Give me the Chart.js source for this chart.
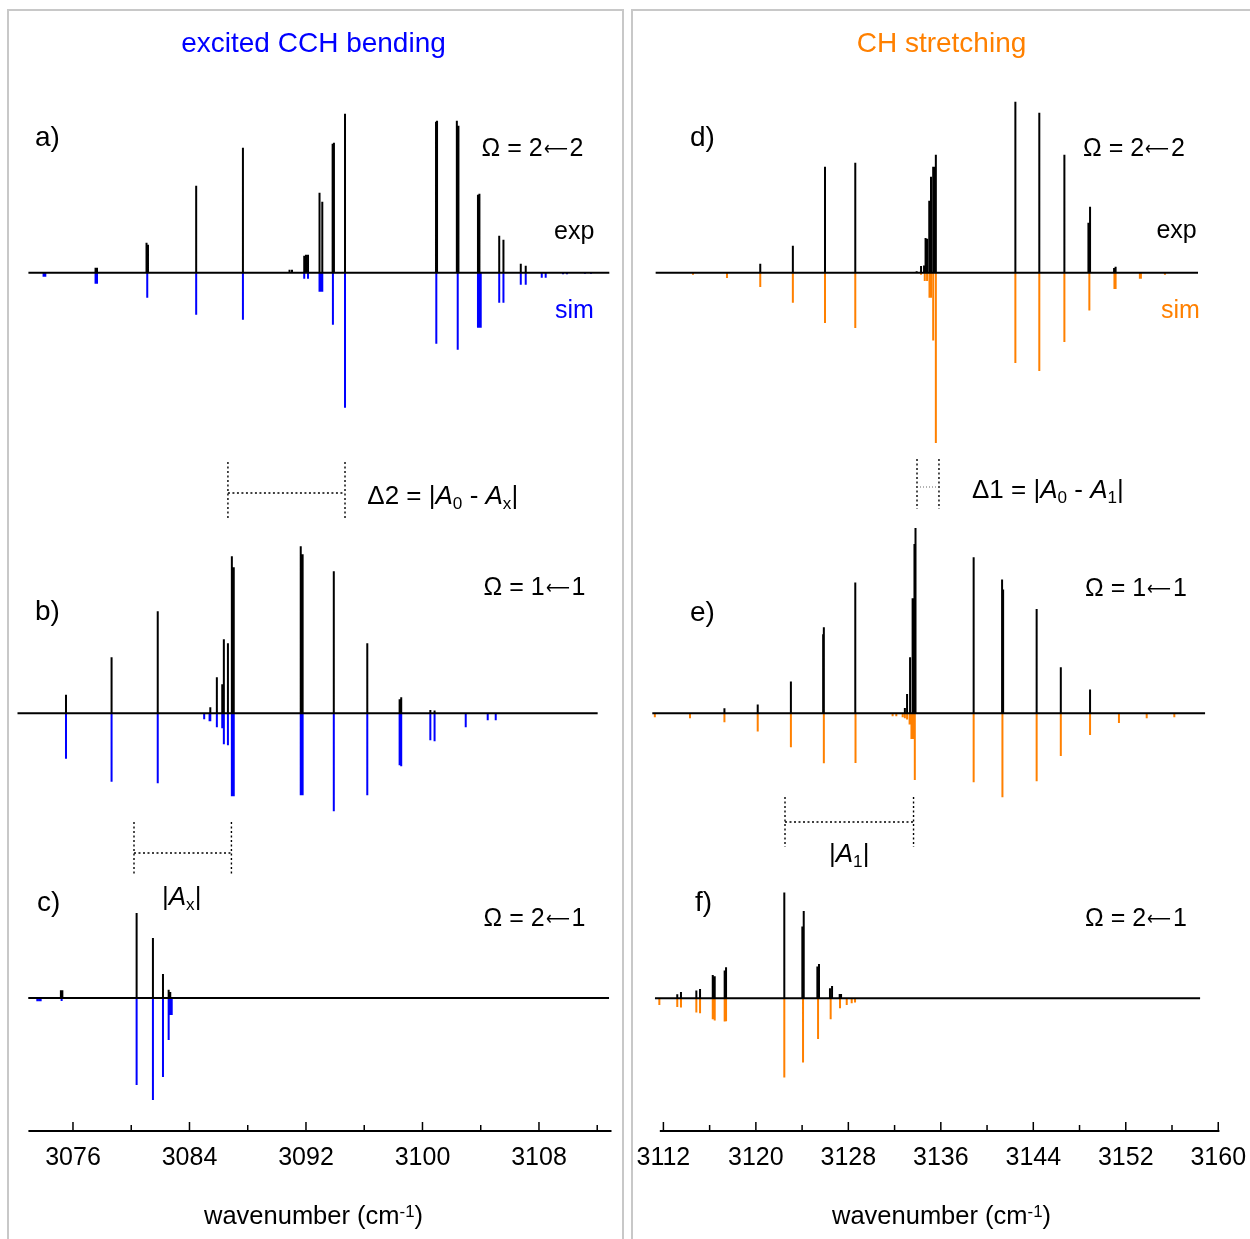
<!DOCTYPE html>
<html>
<head>
<meta charset="utf-8">
<script src="https://cdn.jsdelivr.net/npm/chart.js@4.4.0/dist/chart.umd.min.js"></script>
<style>
html,body{margin:0;padding:0;background:#fff;}
body{width:1250px;height:1239px;position:relative;overflow:hidden;font-family:"Liberation Sans",Arial,sans-serif;color:#000;}
.box{position:absolute;border:2px solid #c8c8c8;box-sizing:border-box;}
.t{position:absolute;white-space:nowrap;line-height:1;}
.cw{position:absolute;top:0;}
.sub{font-size:0.66em;position:relative;top:0.28em;}
.sup{font-size:0.66em;position:relative;top:-0.45em;}
.arr{display:inline-block;font-family:"DejaVu Sans",sans-serif;font-size:0.8em;transform-origin:0 50%;position:relative;top:-1px;}
i{font-style:italic;}
</style>
</head>
<body>
<div class="box" style="left:7px;top:9px;width:617px;height:1240px;"></div>
<div class="box" style="left:631px;top:9px;width:621px;height:1240px;"></div>
<div class="cw" style="left:0;"><canvas id="cl" width="625" height="1239"></canvas></div>
<div class="cw" style="left:600px;"><canvas id="cr" width="700" height="1239"></canvas></div>
<script>
// ---------------- data (wavenumber in cm-1, intensity in arbitrary units) ----------------
const leftTicks = [3076,3080,3084,3088,3092,3096,3100,3104,3108,3112];
const leftTickLabels = [3076,3084,3092,3100,3108];
const rightTicks = [3112,3116,3120,3124,3128,3132,3136,3140,3144,3148,3152,3156,3160];
const rightTickLabels = [3112,3120,3128,3136,3144,3152,3160];

// a) excited CCH bending, Omega = 2<-2
const aExp = [[3077.55,5],[3077.65,5],[3081.05,30],[3081.15,28],[3084.46,87],[3087.67,125],
  [3090.87,3],[3091.04,3],[3091.88,17],[3092.00,18],[3092.14,18],[3092.93,80],[3093.12,71],
  [3093.83,129],[3093.92,130],[3094.68,159],[3100.93,151],[3101.00,152],[3102.36,152],[3102.47,147],
  [3103.81,78],[3103.91,79],[3105.27,37],[3105.56,33],[3106.75,9],[3107.09,7]];
const aSim = [[3073.98,4],[3074.10,4],[3077.55,11],[3077.65,11],[3081.10,25],[3084.46,42],[3087.67,47],
  [3091.88,6],[3092.14,6],[3092.93,19],[3093.02,19],[3093.12,19],[3093.85,52],[3094.68,135],
  [3100.95,71],[3102.42,77],[3103.81,55],[3103.91,55],[3104.00,55],[3105.27,30],[3105.56,30],
  [3106.75,12],[3107.09,12],[3108.19,5],[3108.46,5],[3109.65,1.5],[3109.92,1.5],[3111.16,1],[3111.57,1]];
// b) Omega = 1<-1
const bExp = [[3075.52,18.5],[3078.65,56],[3081.82,102],[3085.43,6],[3085.88,36],[3086.25,29],[3086.36,74],
  [3086.64,70],[3086.91,157],[3087.04,146],[3091.64,167],[3091.77,159],[3093.91,142],[3096.21,70],
  [3098.43,14],[3098.54,16],[3100.54,3.3],[3100.83,2.7]];
const bSim = [[3075.52,45.5],[3078.65,68.5],[3081.82,70],[3085.01,6],[3085.38,8],[3085.43,8],[3085.88,14],
  [3086.25,15],[3086.36,31],[3086.64,32],[3086.91,83],[3087.04,83],[3091.64,82],[3091.77,82],[3093.91,98],
  [3096.21,82],[3098.43,52],[3098.54,53],[3100.54,27],[3100.83,28],[3102.97,14],[3104.48,7],[3105.03,7]];
// c) Omega = 2<-1
const cExp = [[3073.69,1],[3073.78,1],[3075.17,7.7],[3075.27,7.7],[3080.37,85],[3081.49,60],[3082.18,24],
  [3082.57,8.3],[3082.68,6]];
const cSim = [[3073.55,3.3],[3073.69,3.3],[3073.78,3.3],[3075.22,3],[3080.37,87],[3081.49,102],[3082.18,79],
  [3082.57,42],[3082.68,17],[3082.78,17]];
// d) CH stretching, Omega = 2<-2
const dExp = [[3120.38,9],[3123.20,27],[3125.98,106],[3128.60,110],[3133.91,1.5],[3134.29,6.7],[3134.55,7.3],
  [3134.68,34.7],[3134.81,34],[3135.00,72],[3135.15,96],[3135.34,106],[3135.44,106],[3135.57,118],
  [3142.45,171],[3144.52,160],[3146.69,118],[3148.77,50],[3148.91,66],[3150.99,4.7],[3151.12,6]];
const dSim = [[3114.56,2],[3117.50,5.3],[3120.38,14.3],[3123.20,30],[3125.98,50.3],[3128.60,55.3],[3134.29,2],
  [3134.61,8.3],[3134.81,8.3],[3135.02,25],[3135.15,25],[3135.34,67.7],[3135.57,170.3],[3142.45,90.3],
  [3144.52,98.3],[3146.69,69.3],[3148.85,37.7],[3151.02,16.3],[3151.12,16.3],[3153.22,6],[3153.31,6],[3155.39,2]];
// e) Omega = 1<-1
const eExp = [[3117.28,5],[3120.16,8.7],[3123.03,31.7],[3125.82,79],[3125.88,86],[3128.60,130.7],[3132.89,5.3],
  [3133.08,19.3],[3133.34,56],[3133.56,115],[3133.72,169.3],[3133.81,185.3],[3138.84,156],[3141.30,133.7],
  [3141.39,123.7],[3144.29,104.3],[3146.38,46],[3148.91,23.7]];
const eSim = [[3111.26,4],[3114.30,5],[3117.28,9],[3120.16,18.3],[3123.03,34],[3125.88,50],[3128.62,49.7],
  [3131.83,3],[3132.15,3],[3132.70,4],[3132.89,5],[3133.08,6.3],[3133.30,11.3],[3133.46,25.7],[3133.59,25.7],
  [3133.75,66.7],[3138.84,69],[3141.33,84],[3144.29,68],[3146.38,42.7],[3148.91,21.7],[3151.41,9.7],
  [3153.81,5],[3156.20,4]];
// f) Omega = 2<-1
const fExp = [[3113.20,4],[3113.52,6.3],[3114.85,7.7],[3115.17,9.3],[3116.27,23.3],[3116.44,22],[3117.30,27.7],
  [3117.42,31],[3122.46,105.7],[3124.02,71.7],[3124.14,87.3],[3125.32,31.7],[3125.46,34.3],[3126.41,10],
  [3126.59,12.3],[3127.25,4.3],[3127.37,4.3]];
const fSim = [[3111.65,6.7],[3113.20,8.7],[3113.52,9.3],[3114.85,14.3],[3115.17,15],[3116.27,21],[3116.44,22.3],
  [3117.30,23.3],[3117.42,23],[3122.46,79.3],[3124.08,64.3],[3125.38,40.7],[3126.47,21],[3127.28,10],
  [3127.86,6.7],[3128.29,5],[3128.58,4.3]];

// -------------- layout configuration (not data) --------------
const AXIS_Y = 1131, H = 1239;
const BLUE = '#0000ff', ORANGE = '#ff8000';
const leftPanels = [
  {exp:aExp, sim:aSim, range:[3072.94,3112.83], base:AXIS_Y-272.7},
  {exp:bExp, sim:bSim, range:[3072.19,3112.03], base:AXIS_Y-713.3},
  {exp:cExp, sim:cSim, range:[3072.93,3112.81], base:AXIS_Y-998}
];
const rightPanels = [
  {exp:dExp, sim:dSim, range:[3111.33,3158.25], base:AXIS_Y-272.7},
  {exp:eExp, sim:eSim, range:[3111.04,3158.86], base:AXIS_Y-713.3},
  {exp:fExp, sim:fSim, range:[3111.27,3158.43], base:AXIS_Y-998.3}
];
const leftBrackets = [
  {x1:3086.64, x2:3094.68, top:AXIS_Y-462, bottom:AXIS_Y-518, mid:AXIS_Y-493, fine:false},
  {x1:3080.19, x2:3086.88, top:AXIS_Y-822, bottom:AXIS_Y-876, mid:AXIS_Y-853, fine:false}
];
const rightBrackets = [
  {x1:3133.94, x2:3135.84, top:AXIS_Y-459, bottom:AXIS_Y-509, mid:AXIS_Y-487, fine:true},
  {x1:3122.52, x2:3133.64, top:AXIS_Y-797, bottom:AXIS_Y-847, mid:AXIS_Y-822, fine:false}
];

function sticks(pairs, base, sign){
  const pts = [];
  pairs.slice().sort((p,q)=>p[0]-q[0]).forEach(([x,h])=>{
    pts.push({x:x,y:base},{x:x,y:base+sign*h},{x:x,y:NaN});
  });
  return pts;
}
function baselines(panels, axisRange){
  const pts = [];
  panels.forEach(p=>{pts.push({x:p.range[0],y:p.base},{x:p.range[1],y:p.base},{x:p.range[1],y:NaN});});
  pts.push({x:axisRange[0],y:0},{x:axisRange[1],y:0});
  return pts;
}

function makeChart(id, panels, simColor, xMin, xMax, axisRange, padL, padR, ticks, tickLabels, brackets){
  const ds = [{data:baselines(panels, axisRange), borderColor:'#000', borderWidth:2}];
  panels.forEach(p=>{
    ds.push({data:sticks(p.exp, p.base, 1), borderColor:'#000', borderWidth:2});
    ds.push({data:sticks(p.sim, p.base, -1), borderColor:simColor, borderWidth:2});
  });
  ds.forEach(d=>{d.pointRadius=0; d.tension=0; d.spanGaps=false; d.clip=false; d.borderCapStyle='butt'; d.fill=false;});
  const deco = {
    id:'deco',
    afterDatasetsDraw(chart){
      const ctx = chart.ctx, xs = chart.scales.x, ys = chart.scales.y;
      ctx.save();
      ctx.strokeStyle = '#000';
      ctx.lineWidth = 1.5;
      const y0 = ys.getPixelForValue(0);
      ticks.forEach(v=>{
        const px = xs.getPixelForValue(v);
        const len = tickLabels.includes(v) ? 9 : 6;
        ctx.beginPath(); ctx.moveTo(px, y0); ctx.lineTo(px, y0-len); ctx.stroke();
      });
      brackets.forEach(b=>{
        const p1 = xs.getPixelForValue(b.x1), p2 = xs.getPixelForValue(b.x2);
        const yt = ys.getPixelForValue(b.top), yb = ys.getPixelForValue(b.bottom), ym = ys.getPixelForValue(b.mid);
        ctx.strokeStyle = '#000';
        ctx.lineWidth = 1.4;
        ctx.setLineDash([2,2.5]);
        ctx.beginPath(); ctx.moveTo(p1,yt); ctx.lineTo(p1,yb); ctx.stroke();
        ctx.beginPath(); ctx.moveTo(p2,yt); ctx.lineTo(p2,yb); ctx.stroke();
        if (b.fine){ ctx.strokeStyle='#666'; ctx.lineWidth=1; ctx.setLineDash([1,2]); }
        ctx.beginPath(); ctx.moveTo(p1,ym); ctx.lineTo(p2,ym); ctx.stroke();
      });
      ctx.restore();
    }
  };
  return new Chart(document.getElementById(id), {
    type:'line',
    data:{datasets:ds},
    options:{
      responsive:false, animation:false, events:[],
      layout:{padding:{left:padL, right:padR, top:0, bottom:0}, autoPadding:false},
      plugins:{legend:{display:false}, tooltip:{enabled:false}, title:{display:false}},
      scales:{
        x:{type:'linear', min:xMin, max:xMax, offset:false,
           border:{display:false}, grid:{display:false, drawTicks:false},
           afterBuildTicks:(s)=>{ s.ticks = ticks.map(v=>({value:v})); },
           afterFit:(s)=>{ s.height = H - AXIS_Y; },
           ticks:{padding:12, autoSkip:false, maxRotation:0, minRotation:0, color:'#000',
                  font:{family:'"Liberation Sans", Arial, sans-serif', size:25},
                  callback:(v)=> tickLabels.includes(v) ? String(v) : ''}},
        y:{type:'linear', display:false, min:0, max:AXIS_Y}
      }
    },
    plugins:[deco]
  });
}

makeChart('cl', leftPanels, BLUE, 3072.19, 3112.98, [3072.94,3112.98], 17.5, 13.5, leftTicks, leftTickLabels, leftBrackets);
makeChart('cr', rightPanels, ORANGE, 3111.04, 3160.10, [3111.69,3160.10], 52.3, 80.6, rightTicks, rightTickLabels, rightBrackets);

// -------------- text labels --------------
function label(html, size, x, baseline, opt){
  opt = opt || {};
  const d = document.createElement('div');
  d.className = 't';
  d.innerHTML = html;
  d.style.fontSize = size + 'px';
  d.style.top = (baseline - 0.8465*size) + 'px';
  d.style.left = x + 'px';
  if (opt.center) d.style.transform = 'translateX(-50%)';
  if (opt.color) d.style.color = opt.color;
  document.body.appendChild(d);
  return d;
}
const ARR = '<span class="arr">\u27F5</span>';
function omega(a, b){ return '\u03A9 = ' + a + ARR + b; }
label('excited CCH bending', 28, 313.5, 52.3, {center:true, color:BLUE});
label('CH stretching', 28, 941.5, 52.3, {center:true, color:ORANGE});
label('a)', 28, 35, 146.7); label('b)', 28, 35, 620.5); label('c)', 28, 37, 911.7);
label('d)', 28, 690, 146.7); label('e)', 28, 690, 621.5); label('f)', 28, 695, 911.7);
label(omega(2,2), 25, 481.5, 156); label(omega(1,1), 25, 483.5, 595.5); label(omega(2,1), 25, 483.5, 926.5);
label(omega(2,2), 25, 1083, 155.7); label(omega(1,1), 25, 1085, 595.7); label(omega(2,1), 25, 1085, 926.5);
label('exp', 25, 554, 239.3); label('sim', 25, 555, 318.3, {color:BLUE});
label('exp', 25, 1156.4, 238.3); label('sim', 25, 1161, 318.3, {color:ORANGE});
label('\u03942 = |<i>A</i><span class="sub">0</span> - <i>A</i><span class="sub">x</span>|', 26, 367.3, 504.3);
label('\u03941 = |<i>A</i><span class="sub">0</span> - <i>A</i><span class="sub">1</span>|', 26, 972, 498.5);
label('|<i>A</i><span class="sub">x</span>|', 26, 162, 905.5);
label('|<i>A</i><span class="sub">1</span>|', 26, 829, 862.5);
label('wavenumber (cm<span class="sup">-1</span>)', 25.5, 313.5, 1225, {center:true});
label('wavenumber (cm<span class="sup">-1</span>)', 25.5, 941.5, 1225, {center:true});

// fit each long arrow glyph to the width it occupies in the reference (about 24 px)
document.querySelectorAll('.arr').forEach(s=>{
  const w = s.getBoundingClientRect().width;
  const target = 24;
  s.style.transform = 'scaleX(' + (target/w) + ')';
  s.style.marginRight = (target - w + 2) + 'px';
  s.style.marginLeft = '1px';
});
</script>
</body>
</html>
